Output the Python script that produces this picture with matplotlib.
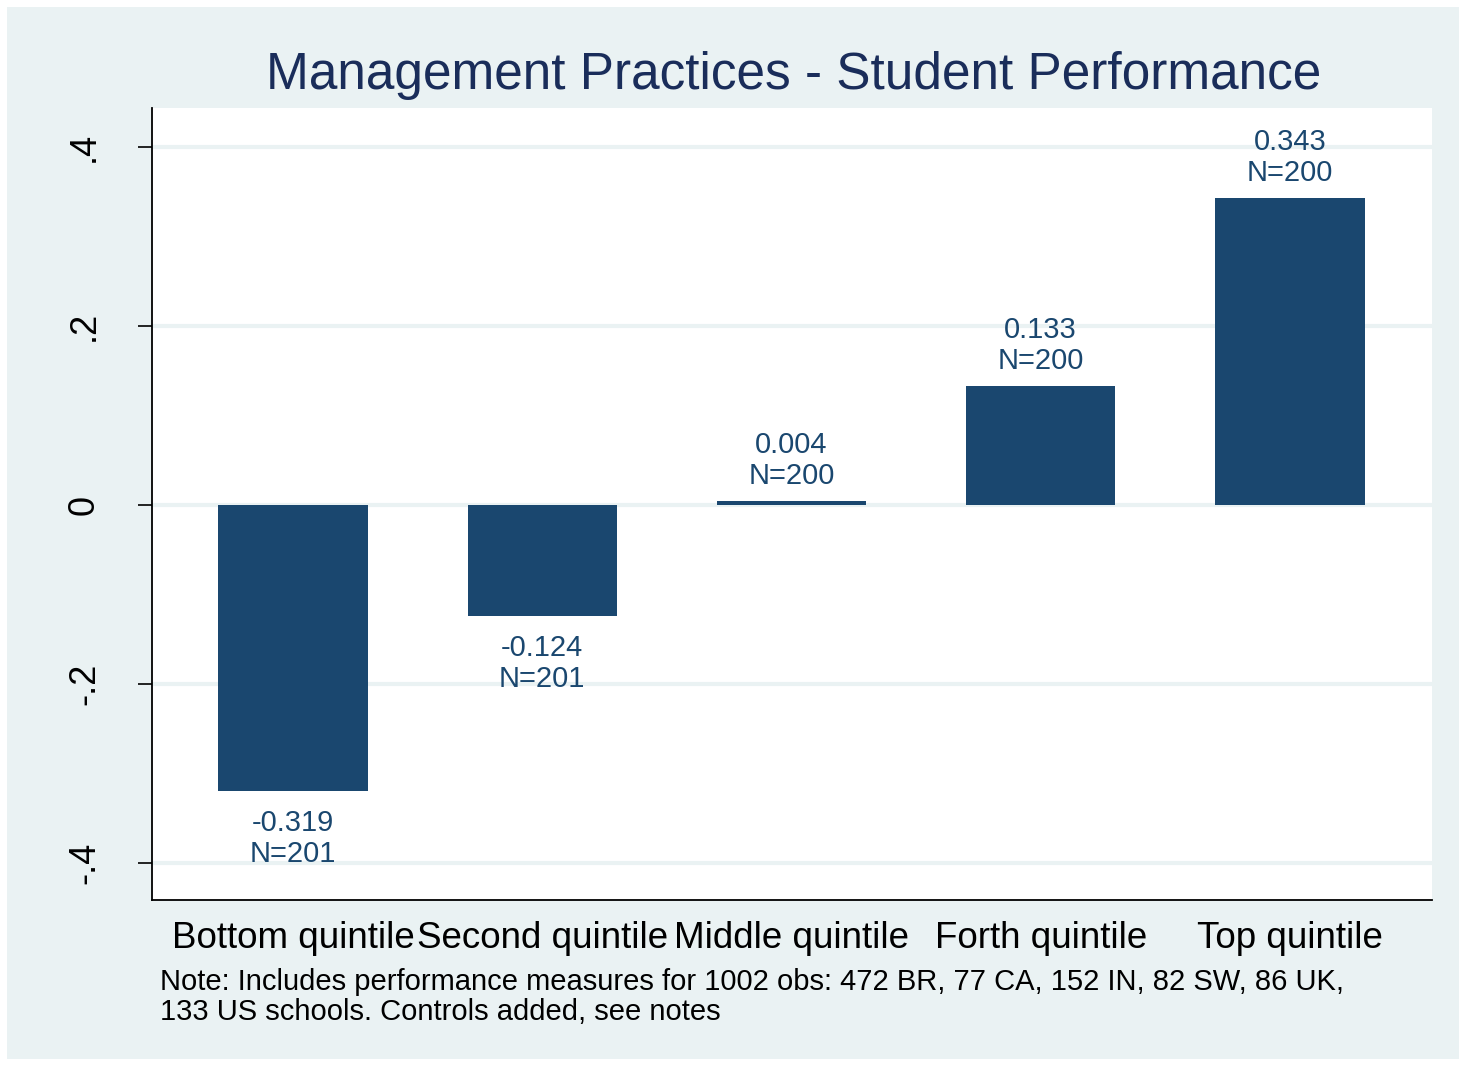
import matplotlib
matplotlib.use("Agg")
import matplotlib.pyplot as plt
import matplotlib.patches as mpatches

matplotlib.rcParams['font.family'] = ['Liberation Sans', 'DejaVu Sans']

# data
categories = ["Bottom quintile", "Second quintile", "Middle quintile",
              "Forth quintile", "Top quintile"]
values = [-0.319, -0.124, 0.004, 0.133, 0.343]
counts = [201, 201, 200, 200, 200]
yticks = [-0.4, -0.2, 0, 0.2, 0.4]
ytick_labels = ["-.4", "-.2", "0", ".2", ".4"]
note = ("Note: Includes performance measures for 1002 obs: 472 BR, 77 CA, 152 IN, 82 SW, 86 UK,\n"
        "133 US schools. Controls added, see notes")

BAR = "#1A476F"
BG = "#EAF2F3"
W, H = 1466, 1066

fig = plt.figure(figsize=(W / 100, H / 100), dpi=100, facecolor="white")
fig.patches.append(mpatches.Rectangle((7 / W, 7 / H), 1 - 14 / W, 1 - 14 / H,
                                      transform=fig.transFigure, facecolor=BG,
                                      edgecolor="none", zorder=-10))

ax = fig.add_axes([152 / W, 1 - 900 / H, (1432 - 152) / W, (900 - 108) / H])
ax.set_facecolor("white")

x = list(range(len(categories)))
ax.bar(x, values, width=0.60, color=BAR, zorder=3)

for xi, v, n in zip(x, values, counts):
    txt = f"{v:.3f}\nN={n}"
    if v >= 0:
        ax.annotate(txt, (xi, v), xytext=(0, 8), textcoords="offset points",
                    ha="center", va="bottom", fontsize=21, color=BAR,
                    linespacing=1.15)
    else:
        ax.annotate(txt, (xi, v), xytext=(0, -13), textcoords="offset points",
                    ha="center", va="top", fontsize=21, color=BAR,
                    linespacing=1.15)

ax.set_xlim(-0.566, 4.57)
ax.set_ylim(-0.4413, 0.4436)
ax.set_yticks(yticks)
ax.set_yticklabels(ytick_labels, rotation=90, va="center", fontsize=26)
ax.set_xticks(x)
ax.set_xticklabels(categories, fontsize=26.5)
ax.tick_params(axis="x", length=0, pad=15)
ax.tick_params(axis="y", length=10, width=1.2, pad=26, direction="out")
ax.grid(axis="y", color=BG, linewidth=3, zorder=0)
for s in ("top", "right"):
    ax.spines[s].set_visible(False)
for s in ("left", "bottom"):
    ax.spines[s].set_linewidth(1.3)
    ax.spines[s].set_color("black")

fig.text(794 / W, 1 - 75 / H, "Management Practices - Student Performance",
         ha="center", va="center", fontsize=37, color="#1A2D5A")
fig.text(160 / W, 1 - 968 / H, note, ha="left", va="top", fontsize=21,
         color="black", linespacing=1.1)

fig.savefig("out.png", dpi=100, facecolor="white")
